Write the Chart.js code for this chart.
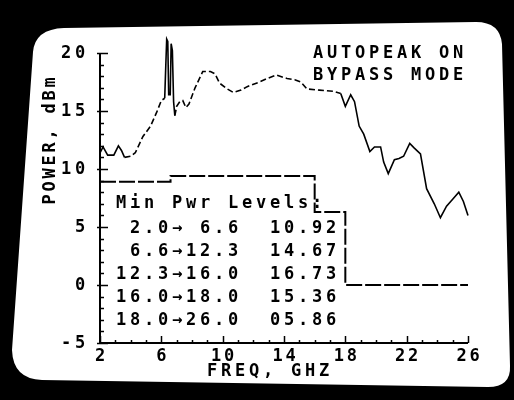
<!DOCTYPE html>
<html>
<head>
<meta charset="utf-8">
<title>Power vs Frequency</title>
<script src="https://cdn.jsdelivr.net/npm/chart.js@4.4.0/dist/chart.umd.min.js"></script>
<style>
  html, body { margin: 0; padding: 0; background: #000; }
  #wrap { position: relative; width: 514px; height: 400px; }
</style>
</head>
<body>
<div id="wrap"><canvas id="powerChart" width="514" height="400"></canvas></div>
<script>
// swept output power trace (GHz, dBm)
const freqGHz = [2.0, 2.2, 2.5, 2.9, 3.2, 3.4, 3.6, 4.0, 4.3, 4.8, 5.3, 5.7, 6.0, 6.22,
  6.28, 6.35, 6.42, 6.48, 6.58, 6.64, 6.72, 6.8, 6.88, 7.0, 7.2, 7.4, 7.6, 7.8, 8.2, 8.7,
  9.2, 9.5, 9.8, 10.3, 10.7, 11.2, 11.6, 12.4, 12.9, 13.5, 14.2, 14.7, 15.1, 15.5, 16.3,
  17.2, 17.7, 18.0, 18.35, 18.6, 18.9, 19.2, 19.6, 19.9, 20.3, 20.5, 20.8, 21.2, 21.5,
  21.8, 22.2, 22.5, 22.9, 23.3, 23.8, 24.2, 24.6, 25.0, 25.4, 25.7, 26.0];
const powerDbm = [11.4, 11.9, 11.2, 11.2, 12.0, 11.6, 11.0, 11.1, 11.4, 12.8, 13.7, 14.9, 15.9, 16.1,
  18.5, 21.2, 21.0, 16.4, 16.4, 20.8, 20.2, 15.8, 14.6, 15.4, 15.8, 15.9, 15.3, 15.6, 17.0, 18.4,
  18.4, 18.2, 17.4, 16.9, 16.6, 16.8, 17.1, 17.5, 17.8, 18.1, 17.8, 17.7, 17.5, 16.9, 16.8,
  16.7, 16.5, 15.4, 16.4, 15.8, 13.7, 13.0, 11.5, 11.9, 11.9, 10.6, 9.6, 10.8, 10.9,
  11.1, 12.2, 11.8, 11.3, 8.3, 7.0, 5.8, 6.8, 7.4, 8.0, 7.2, 6.0];

// frequency bands, measured minimum power and the spec limit per band
const bandStart = [2.0, 6.6, 12.3, 16.0, 18.0];
const bandEnd = [6.6, 12.3, 16.0, 18.0, 26.0];
const bandMinPwr = [10.92, 14.67, 16.73, 15.36, 5.86];
const bandLimit = [8.9, 9.4, 9.4, 6.3, 0];

const xTickLabels = [2, 6, 10, 14, 18, 22, 26];
const yTickLabels = [-5, 0, 5, 10, 15, 20];
const statusLines = ['AUTOPEAK ON', 'BYPASS MODE'];
const tableTitle = 'Min Pwr Levels:';
const xTitle = 'FREQ, GHZ';
const yTitle = 'POWER, dBm';

const MONO = 'bold 17px "DejaVu Sans Mono", "Liberation Mono", monospace';

// draw a string one glyph at a time on a fixed pitch, like the terminal font
function drawMono(ctx, str, x, y, pitch) {
    for (let i = 0; i < str.length; i++) {
        ctx.fillText(str[i], x + i * pitch, y);
    }
}

function bandRow(i) {
    const a = bandStart[i].toFixed(1).padStart(4, ' ');
    const b = bandEnd[i].toFixed(1).padStart(4, ' ');
    const p = bandMinPwr[i].toFixed(2).padStart(5, '0');
    return a + '\u2192' + b + '  ' + p;
}

// black bezel and the white face of the tube
const crtScreen = {
    id: 'crtScreen',
    beforeDraw(chart) {
        const ctx = chart.ctx;
        ctx.save();
        ctx.fillStyle = '#000';
        ctx.fillRect(0, 0, chart.width, chart.height);
        ctx.fillStyle = '#fff';
        ctx.beginPath();
        ctx.moveTo(33, 52);
        ctx.quadraticCurveTo(35, 29, 64, 28);
        ctx.lineTo(476, 22);
        ctx.quadraticCurveTo(500, 22, 502, 44);
        ctx.lineTo(510, 366);
        ctx.quadraticCurveTo(511, 387, 488, 387);
        ctx.lineTo(42, 380);
        ctx.quadraticCurveTo(13, 379, 12, 350);
        ctx.closePath();
        ctx.fill();
        ctx.restore();
    }
};

// axes with inward ticks, labels and the on-screen text
const crtAxes = {
    id: 'crtAxes',
    afterDraw(chart) {
        const ctx = chart.ctx;
        const xs = chart.scales.x, ys = chart.scales.y;
        const x0 = xs.getPixelForValue(xs.min), x1 = xs.getPixelForValue(xs.max);
        const y0 = ys.getPixelForValue(ys.min), y1 = ys.getPixelForValue(ys.max);
        ctx.save();
        ctx.strokeStyle = '#000';
        ctx.fillStyle = '#000';
        ctx.lineWidth = 2;
        ctx.beginPath();
        ctx.moveTo(x0, y1);
        ctx.lineTo(x0, y0);
        ctx.lineTo(x1, y0);
        ctx.stroke();

        ctx.lineWidth = 1.5;
        ctx.beginPath();
        for (let v = ys.min; v <= ys.max; v++) {
            const py = Math.round(ys.getPixelForValue(v)) + 0.5;
            const major = v % 5 === 0;
            ctx.moveTo(x0 - (major ? 3 : 0), py);
            ctx.lineTo(x0 + (major ? 8 : 4), py);
        }
        for (let v = xs.min; v <= xs.max; v++) {
            const px = Math.round(xs.getPixelForValue(v)) + 0.5;
            const major = xTickLabels.includes(v);
            ctx.moveTo(px, y0);
            ctx.lineTo(px, y0 - (major ? 7 : 3));
        }
        ctx.stroke();

        ctx.font = MONO;
        ctx.textAlign = 'center';
        ctx.textBaseline = 'middle';
        const pitch = 14;

        yTickLabels.forEach(v => {
            const s = String(v);
            const py = ys.getPixelForValue(v) + 1;
            drawMono(ctx, s, 80 - (s.length - 1) * pitch, py, pitch);
        });
        xTickLabels.forEach(v => {
            const s = String(v);
            const px = xs.getPixelForValue(v);
            drawMono(ctx, s, px - (s.length - 1) * 13 / 2, 357, 13);
        });
        drawMono(ctx, xTitle, 268 - (xTitle.length - 1) * pitch / 2, 372, pitch);

        ctx.save();
        ctx.translate(51, 141);
        ctx.rotate(-Math.PI / 2);
        drawMono(ctx, yTitle, -(yTitle.length - 1) * 13 / 2, 0, 13);
        ctx.restore();

        statusLines.forEach((s, i) => drawMono(ctx, s, 318, 54 + i * 22, pitch));

        drawMono(ctx, tableTitle, 121, 204, pitch);
        bandStart.forEach((_, i) => drawMono(ctx, bandRow(i), 121, 229 + i * 23, pitch));
        ctx.restore();
    }
};

const tracePts = freqGHz.map((f, i) => ({ x: f, y: powerDbm[i] }));
const limitPts = bandStart.map((f, i) => ({ x: f, y: bandLimit[i] }));
limitPts.push({ x: bandEnd[bandEnd.length - 1], y: bandLimit[bandLimit.length - 1] });

new Chart(document.getElementById('powerChart'), {
    type: 'line',
    data: {
        datasets: [
            {
                label: 'Power',
                data: tracePts,
                borderColor: '#000',
                borderWidth: 1.6,
                pointRadius: 0,
                tension: 0,
                clip: false,
                // the slow sweep below 17.7 GHz shows up broken on the tube
                segment: {
                    borderDash: c => (c.p0.parsed.x >= 3.6 && c.p1.parsed.x <= 17.7 &&
                        !(c.p0.parsed.x >= 6.2 && c.p1.parsed.x <= 6.9)) ? [6, 3] : undefined
                }
            },
            {
                label: 'Limit',
                data: limitPts,
                stepped: true,
                borderColor: '#000',
                borderWidth: 2,
                borderDash: [16, 3],
                pointRadius: 0,
                clip: false
            }
        ]
    },
    options: {
        responsive: false,
        animation: false,
        events: [],
        layout: { padding: { left: 100, right: 46, top: 53, bottom: 57 } },
        scales: {
            x: { type: 'linear', min: 2, max: 26, display: false },
            y: { type: 'linear', min: -5, max: 20, display: false }
        },
        plugins: {
            legend: { display: false },
            tooltip: { enabled: false }
        }
    },
    plugins: [crtScreen, crtAxes]
});
</script>
</body>
</html>
